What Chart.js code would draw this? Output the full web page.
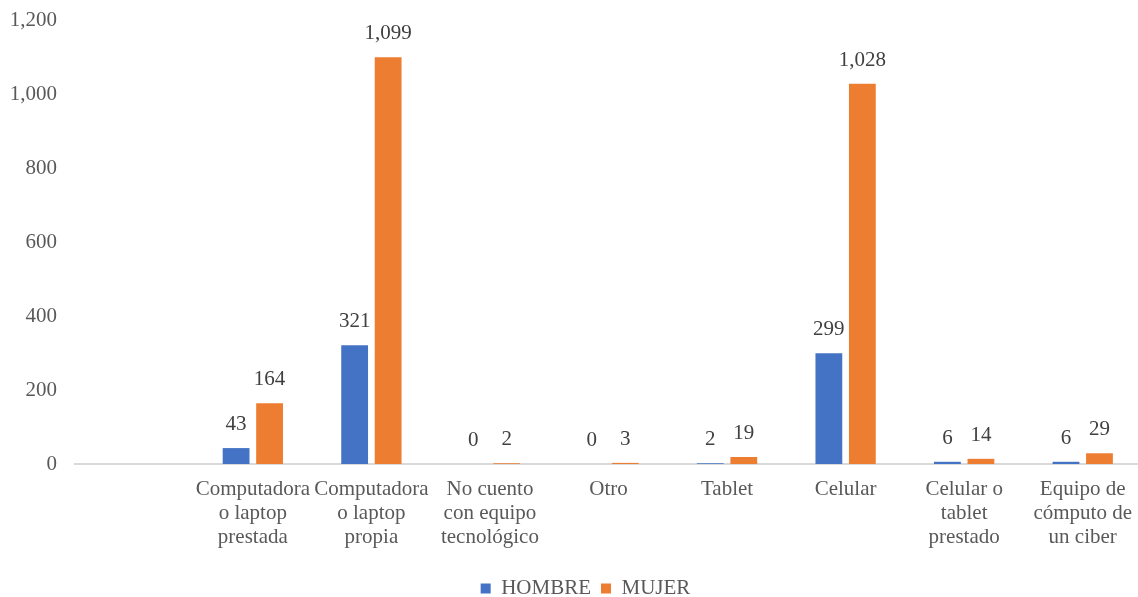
<!DOCTYPE html>
<html>
<head>
<meta charset="utf-8">
<script src="https://cdn.jsdelivr.net/npm/chart.js@4/dist/chart.umd.min.js"></script>
<style>
  html, body { margin: 0; padding: 0; background: #fff; overflow: hidden; }
  #wrap { width: 1146px; height: 597px; position: relative; }
</style>
</head>
<body>
<div id="wrap"><canvas id="chart"></canvas></div>
<script>
// Categorias (la primera viene vacia en el original)
const categories = [
    '',
    ['Computadora', 'o laptop', 'prestada'],
    ['Computadora', 'o laptop', 'propia'],
    ['No cuento', 'con equipo', 'tecnológico'],
    'Otro',
    'Tablet',
    'Celular',
    ['Celular o', 'tablet', 'prestado'],
    ['Equipo de', 'cómputo de', 'un ciber']
];
const hombre = [null, 43, 321, 0, 0, 2, 299, 6, 6];
const mujer = [null, 164, 1099, 2, 3, 19, 1028, 14, 29];
const yTicks = [0, 200, 400, 600, 800, 1000, 1200];

const fontFamily = "'Liberation Serif', 'Times New Roman', serif";
const fontSize = 21;
const textColor = '#595959';

// Etiquetas de valor sobre cada barra
const valueLabels = {
    id: 'valueLabels',
    afterDatasetsDraw(chart) {
        const ctx = chart.ctx;
        ctx.save();
        ctx.font = fontSize + 'px ' + fontFamily;
        ctx.fillStyle = '#404040';
        ctx.textAlign = 'center';
        ctx.textBaseline = 'alphabetic';
        chart.data.datasets.forEach((ds, i) => {
            const meta = chart.getDatasetMeta(i);
            meta.data.forEach((bar, j) => {
                const v = ds.data[j];
                if (v === null || v === undefined) return;
                ctx.fillText(v.toLocaleString('en-US'), bar.x, bar.y - 18);
            });
        });
        ctx.restore();
    }
};

// La leyenda original esta un poco corrida a la derecha
const shiftLegend = {
    id: 'shiftLegend',
    afterLayout(chart) {
        if (chart.legend) chart.legend.left += 29;
    }
};

const ctx = document.getElementById('chart').getContext('2d');
const chart = new Chart(ctx, {
    type: 'bar',
    data: {
        labels: categories,
        datasets: [{
            label: 'HOMBRE',
            data: hombre,
            backgroundColor: '#4472C4',
            categoryPercentage: 0.565,
            barPercentage: 0.8
        }, {
            label: 'MUJER',
            data: mujer,
            backgroundColor: '#ED7D31',
            categoryPercentage: 0.565,
            barPercentage: 0.8
        }]
    },
    options: {
        responsive: true,
        maintainAspectRatio: false,
        animation: false,
        layout: {
            padding: { top: 20, right: 4, bottom: -12, left: 0 }
        },
        plugins: {
            legend: {
                position: 'bottom',
                labels: {
                    boxWidth: 10,
                    boxHeight: 10,
                    padding: 10,
                    color: textColor,
                    font: { family: fontFamily, size: fontSize }
                }
            },
            tooltip: { enabled: false }
        },
        scales: {
            y: {
                min: 0,
                max: 1200,
                afterFit(scale) {
                    scale.width = 75;
                    scale.paddingTop = 0;
                    scale.paddingBottom = 0;
                },
                afterBuildTicks(scale) {
                    scale.ticks = yTicks.map(v => ({ value: v }));
                },
                grid: { display: false, drawTicks: false },
                border: { display: false },
                ticks: {
                    padding: 18,
                    color: textColor,
                    font: { family: fontFamily, size: fontSize },
                    callback: v => v.toLocaleString('en-US')
                }
            },
            x: {
                afterFit(scale) { scale.height = 104; },
                grid: { display: false, drawTicks: false },
                border: { display: true, color: '#D9D9D9', width: 2 },
                ticks: {
                    padding: 13,
                    autoSkip: false,
                    maxRotation: 0,
                    minRotation: 0,
                    color: textColor,
                    font: { family: fontFamily, size: fontSize, lineHeight: 1.16 }
                }
            }
        }
    },
    plugins: [valueLabels, shiftLegend]
});
</script>
</body>
</html>
